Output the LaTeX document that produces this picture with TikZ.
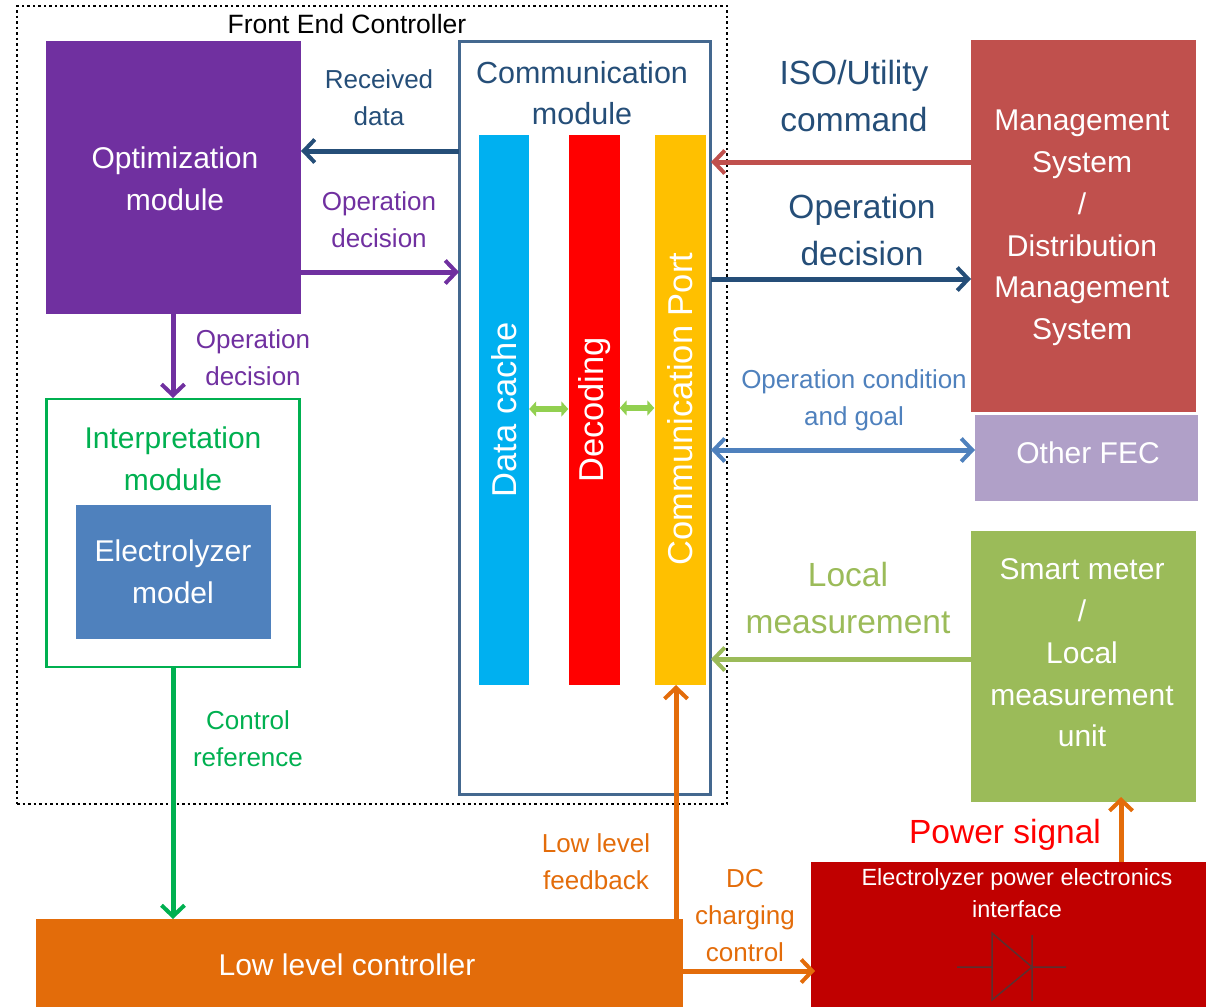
\documentclass[tikz,border=0pt]{standalone}
\usepackage{fontspec}
\setmainfont{Liberation Sans}
\usetikzlibrary{arrows.meta}
\definecolor{purp}{HTML}{7030A0}
\definecolor{navy}{HTML}{254E78}
\definecolor{commline}{HTML}{44688F}
\definecolor{brick}{HTML}{C0504D}
\definecolor{lblue}{HTML}{4F81BD}
\definecolor{lilac}{HTML}{B0A0C8}
\definecolor{olive}{HTML}{9BBB59}
\definecolor{grn}{HTML}{00B050}
\definecolor{orng}{HTML}{E36C0A}
\definecolor{dred}{HTML}{C00000}
\definecolor{skyband}{HTML}{00B0F0}
\definecolor{ambr}{HTML}{FFC000}
\definecolor{lime}{HTML}{92D050}
\definecolor{diode}{HTML}{5A3030}
\tikzset{
  x=1pt,y=-1pt,
  solidbox/.style={inner sep=0pt,text=white,align=center,font=\fontsize{30}{41.800}\selectfont},
  band/.style={inner sep=0pt,text=white,font=\fontsize{34.500}{40}\selectfont},
  lbl/.style={inner sep=0pt,align=center,font=\fontsize{26}{37}\selectfont},
  biglbl/.style={inner sep=0pt,align=center,font=\fontsize{33.500}{46.500}\selectfont},
  barb/.tip={Straight Barb[length=11pt,width=23pt,line width=4pt]},
  conn/.style={line width=5pt,-barb},
  twoway/.style={line width=6pt,lime,{Triangle[length=7pt,width=15pt]}-{Triangle[length=7pt,width=15pt]}},
}
\begin{document}
\begin{tikzpicture}
\useasboundingbox (0,0) rectangle (1206,1007);
% controller outline
\node[draw,dash pattern=on 2.500pt off 3pt,line width=2.500pt,minimum width=710pt,minimum height=798pt,inner sep=0pt] (fec) at (372,405) {};
\node[inner sep=0pt,font=\fontsize{26.500}{32}\selectfont] (feclbl) at (347,24) {Front End Controller};
% left column
\node[solidbox,fill=purp,minimum width=255pt,minimum height=273pt] (opt) at (173,177) {};
\node[solidbox] (optlbl) at (175,179) {Optimization\\module};
\node[draw=grn,line width=2.5pt,minimum width=253pt,minimum height=268pt,inner sep=0pt] (interp) at (173,533) {};
\node[inner sep=0pt,align=center,text=grn,font=\fontsize{30}{41.500}\selectfont] (interplbl) at (173,459) {Interpretation\\module};
\node[solidbox,fill=lblue,minimum width=195pt,minimum height=134pt] (elec) at (173,572) {Electrolyzer\\model};
% communication module
\node[draw=commline,line width=2.5pt,fill=white,minimum width=251pt,minimum height=753pt,inner sep=0pt] (comm) at (585,418) {};
\node[inner sep=0pt,align=center,text=navy,font=\fontsize{30.500}{41.500}\selectfont] (commlbl) at (582,93) {Communication\\module};
\node[band,fill=skyband,minimum width=50pt,minimum height=550pt] (cache) at (504,410) {};
\node[band,rotate=90] (cachelbl) at (504,410) {Data cache};
\node[band,fill=red,minimum width=51pt,minimum height=550pt] (dec) at (594,410) {};
\node[band,rotate=90] (declbl) at (595,410) {Decoding};
\node[band,fill=ambr,minimum width=51pt,minimum height=550pt] (port) at (680,410) {};
\node[band,rotate=90] (portlbl) at (680,409) {Communication Port};
% right column
\node[solidbox,fill=brick,minimum width=225pt,minimum height=372pt] (mgmt) at (1083,226) {};
\node[solidbox] (mgmtlbl) at (1082,228) {Management\\System\\/\\Distribution\\Management\\System};
\node[solidbox,fill=lilac,minimum width=223pt,minimum height=86pt] (other) at (1086,458) {};
\node[solidbox] (otherlbl) at (1088,453) {Other FEC};
\node[solidbox,fill=olive,minimum width=225pt,minimum height=271pt] (meter) at (1083,666) {};
\node[solidbox] (meterlbl) at (1082,653) {Smart meter\\/\\Local\\measurement\\unit};
% bottom row
\node[solidbox,fill=orng,minimum width=647pt,minimum height=88pt] (llc) at (359.500,963) {};
\node[solidbox] (llclbl) at (347,965) {Low level controller};
\node[fill=dred,minimum width=395pt,minimum height=145pt,inner sep=0pt] (power) at (1008.500,934.500) {};
\node[inner sep=0pt,align=center,text=white,font=\fontsize{23.400}{32}\selectfont] (powerlbl) at (1017,893) {Electrolyzer power electronics\\interface};
% diode
\coordinate (dl) at (957,967);
\coordinate (dr) at (1066,967);
\draw[diode,line width=1.5pt] (dl) -- (992,967) (992,933) -- (992,1000) -- (1032,967) -- cycle (1032,935) -- (1032,1001) (1032,967) -- (dr);
% connectors
\coordinate (c1) at (459,151);
\coordinate (c2) at (301,151);
\draw[conn,navy] (c1) -- (c2);
\coordinate (c3) at (301,272);
\coordinate (c4) at (459,272);
\draw[conn,purp] (c3) -- (c4);
\coordinate (c5) at (173,313);
\coordinate (c6) at (173,398);
\draw[conn,purp] (c5) -- (c6);
\coordinate (c7) at (173,668);
\coordinate (c8) at (173,919);
\draw[conn,grn] (c7) -- (c8);
\coordinate (c9) at (971,162);
\coordinate (c10) at (711,162);
\draw[conn,brick] (c9) -- (c10);
\coordinate (c11) at (711,279);
\coordinate (c12) at (971,279);
\draw[conn,navy] (c11) -- (c12);
\coordinate (c13) at (711,450);
\coordinate (c14) at (975,450);
\draw[line width=5pt,lblue,barb-barb] (c13) -- (c14);
\coordinate (c15) at (971,659);
\coordinate (c16) at (711,659);
\draw[conn,olive] (c15) -- (c16);
\coordinate (c17) at (676,919);
\coordinate (c18) at (676,685);
\draw[conn,orng] (c17) -- (c18);
\coordinate (c19) at (683,971);
\coordinate (c20) at (815,971);
\draw[conn,orng] (c19) -- (c20);
\coordinate (c21) at (1121,862);
\coordinate (c22) at (1121,797);
\draw[conn,orng] (c21) -- (c22);
\draw[twoway] (cache.east |- 0,409) -- (dec.west |- 0,409);
\draw[twoway] (dec.east |- 0,408) -- (port.west |- 0,408);
% labels
\node[lbl,text=navy] (recv) at (379,98) {Received\\data};
\node[lbl,text=purp] (dec1) at (379,220) {Operation\\decision};
\node[lbl,text=purp] (dec2) at (253,358) {Operation\\decision};
\node[lbl,text=grn] (ctrl) at (248,739) {Control\\reference};
\node[lbl,text=orng] (fb) at (596,862) {Low level\\feedback};
\node[lbl,text=orng] (dc) at (745,916) {DC\\charging\\control};
\node[biglbl,text=navy] (iso) at (854,96) {ISO/Utility\\command};
\node[biglbl,text=navy] (dec3) at (862,230) {Operation\\decision};
\node[lbl,text=lblue] (cond) at (854,400) {Operation condition\\and goal};
\node[biglbl,text=olive] (local) at (848,598) {Local\\measurement};
\node[inner sep=0pt,text=red,font=\fontsize{33.500}{40}\selectfont] (sig) at (1005,835) {Power signal};
\end{tikzpicture}
\end{document}
